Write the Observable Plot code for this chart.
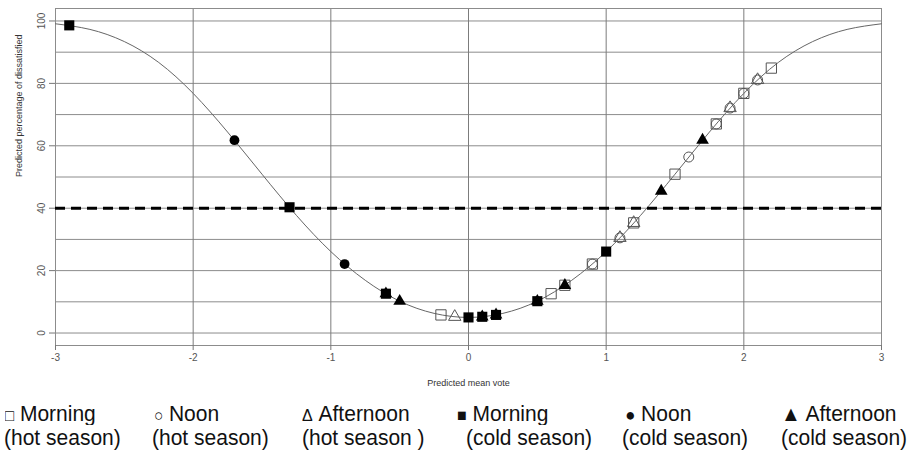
<!DOCTYPE html>
<html><head><meta charset="utf-8">
<script src="https://cdn.jsdelivr.net/npm/d3@7"></script>
<script src="https://cdn.jsdelivr.net/npm/@observablehq/plot@0.6"></script>
<style>
body{margin:0;background:#fff;font-family:"Liberation Sans",Arial,sans-serif;}
#wrap{position:relative;width:911px;height:452px;overflow:hidden;background:#fff;}
#wrap svg{display:block;}
.lg{position:absolute;font-size:21px;line-height:21px;color:#111;white-space:pre;transform-origin:0 100%;transform:scaleY(1.08);}
</style></head><body><div id="wrap"></div>
<script>
// ---- data ----
const xTicks = [-3, -2, -1, 0, 1, 2, 3];
const yTicks = [0, 20, 40, 60, 80, 100];
const yGrid = [0, 10, 20, 30, 40, 50, 60, 70, 80, 90, 100];
const threshold = [40];

const curveX = [-3, -2.75, -2.5, -2.25, -2, -1.75, -1.5, -1.25, -1, -0.75, -0.5, -0.25, 0, 0.25, 0.5, 0.75, 1, 1.25, 1.5, 1.75, 2, 2.25, 2.5, 2.75, 3];
const curveY = [99.1, 97.3, 93.4, 86.7, 76.8, 64.4, 50.9, 37.7, 26.1, 16.9, 10.2, 6.3, 5.0, 6.3, 10.2, 16.9, 26.1, 37.7, 50.9, 64.4, 76.8, 86.7, 93.4, 97.3, 99.1];

const hotMorningX = [-0.2, 0.6, 0.7, 0.9, 1.2, 1.5, 1.8, 2.0, 2.2];
const hotMorningY = [5.8, 12.6, 15.3, 22.1, 35.3, 50.9, 67.0, 76.8, 84.9];
const hotNoonX = [0.9, 1.1, 1.6, 1.8, 1.9, 2.0, 2.1];
const hotNoonY = [22.1, 30.5, 56.4, 67.0, 72.1, 76.8, 81.1];
const hotAfternoonX = [-0.1, 1.1, 1.2, 1.9, 2.1];
const hotAfternoonY = [5.2, 30.5, 35.3, 72.1, 81.1];
const coldMorningX = [-2.9, -1.3, -0.6, 0.0, 0.1, 0.2, 0.5, 1.0];
const coldMorningY = [98.6, 40.3, 12.6, 5.0, 5.2, 5.8, 10.2, 26.1];
const coldNoonX = [-1.7, -0.9];
const coldNoonY = [61.8, 22.1];
const coldAfternoonX = [-0.6, -0.5, 0.1, 0.2, 0.5, 0.7, 1.4, 1.7];
const coldAfternoonY = [12.6, 10.2, 5.2, 5.8, 10.2, 15.3, 45.5, 61.8];

const xLabel = "Predicted mean vote";
const yLabel = "Predicted percentage of dissatisfied";

const legendSymbols = ["\u25A1", "\u25CB", "\u0394", "\u25A0", "\u25CF", "\u25B2"];
const legendNames = ["Morning", "Noon", "Afternoon", "Morning", "Noon", "Afternoon"];
const legendSeasons = ["(hot season)", "(hot season)", "(hot season )", "(cold season)", "(cold season)", "(cold season)"];

// ---- layout (not data) ----
const legendLine1Left = [5, 154, 302, 457, 625, 781];
const legendLine2Left = [4, 152, 302, 466, 622, 781];
const legendSymbolSize = [15, 15, 16, 16, 17, 20];

const openStyle = {stroke: "#555", strokeWidth: 1, fill: "none"};
const filledStyle = {fill: "#000", stroke: "none"};

const chart = Plot.plot({
  width: 911,
  height: 392,
  marginLeft: 55,
  marginRight: 30,
  marginTop: 8,
  marginBottom: 47,
  style: {fontFamily: "'Liberation Sans', Arial, sans-serif", fontSize: "10px", background: "#fff", color: "#333"},
  x: {domain: [-3, 3]},
  y: {domain: [-4, 104]},
  marks: [
    Plot.ruleY(yGrid, {stroke: "#8c8c8c", strokeWidth: 1}),
    Plot.ruleX(xTicks, {stroke: "#7c7c7c", strokeWidth: 1}),
    Plot.frame({stroke: "#8c8c8c"}),
    Plot.axisX(xTicks, {tickSize: 5, tickPadding: 3, stroke: "#777", fill: "#555", label: null, tickFormat: d => String(d)}),
    Plot.axisY(yTicks, {tickSize: 6, tickPadding: 5, tickRotate: -90, stroke: "#777", fill: "#555", label: null, tickFormat: d => String(d)}),
    Plot.text([xLabel], {frameAnchor: "bottom", dy: 40, fontSize: 9, fill: "#333"}),
    Plot.text([yLabel], {frameAnchor: "left", dx: -36, rotate: -90, fontSize: 9, fill: "#333"}),
    Plot.line(curveX, {x: curveX, y: curveY, curve: "natural", stroke: "#666", strokeWidth: 1}),
    Plot.ruleY(threshold, {stroke: "#000", strokeWidth: 3, strokeDasharray: "10,6"}),
    Plot.dot(hotMorningX, {x: hotMorningX, y: hotMorningY, symbol: "square", r: 5.8, ...openStyle}),
    Plot.dot(hotNoonX, {x: hotNoonX, y: hotNoonY, symbol: "circle", r: 5, ...openStyle}),
    Plot.dot(hotAfternoonX, {x: hotAfternoonX, y: hotAfternoonY, symbol: "triangle", r: 4.6, ...openStyle}),
    Plot.dot(coldMorningX, {x: coldMorningX, y: coldMorningY, symbol: "square", r: 5.7, ...filledStyle}),
    Plot.dot(coldNoonX, {x: coldNoonX, y: coldNoonY, symbol: "circle", r: 4.9, ...filledStyle}),
    Plot.dot(coldAfternoonX, {x: coldAfternoonX, y: coldAfternoonY, symbol: "triangle", r: 4.7, ...filledStyle})
  ]
});

const wrap = document.getElementById("wrap");
wrap.appendChild(chart);

legendNames.forEach((name, i) => {
  const l1 = document.createElement("div");
  l1.className = "lg";
  l1.style.left = legendLine1Left[i] + "px";
  l1.style.top = "403px";
  const s = document.createElement("span");
  s.style.fontSize = legendSymbolSize[i] + "px";
  s.textContent = legendSymbols[i];
  l1.appendChild(s);
  l1.appendChild(document.createTextNode(" " + name));
  wrap.appendChild(l1);
  const l2 = document.createElement("div");
  l2.className = "lg";
  l2.style.left = legendLine2Left[i] + "px";
  l2.style.top = "427px";
  l2.textContent = legendSeasons[i];
  wrap.appendChild(l2);
});
</script>
</body></html>
